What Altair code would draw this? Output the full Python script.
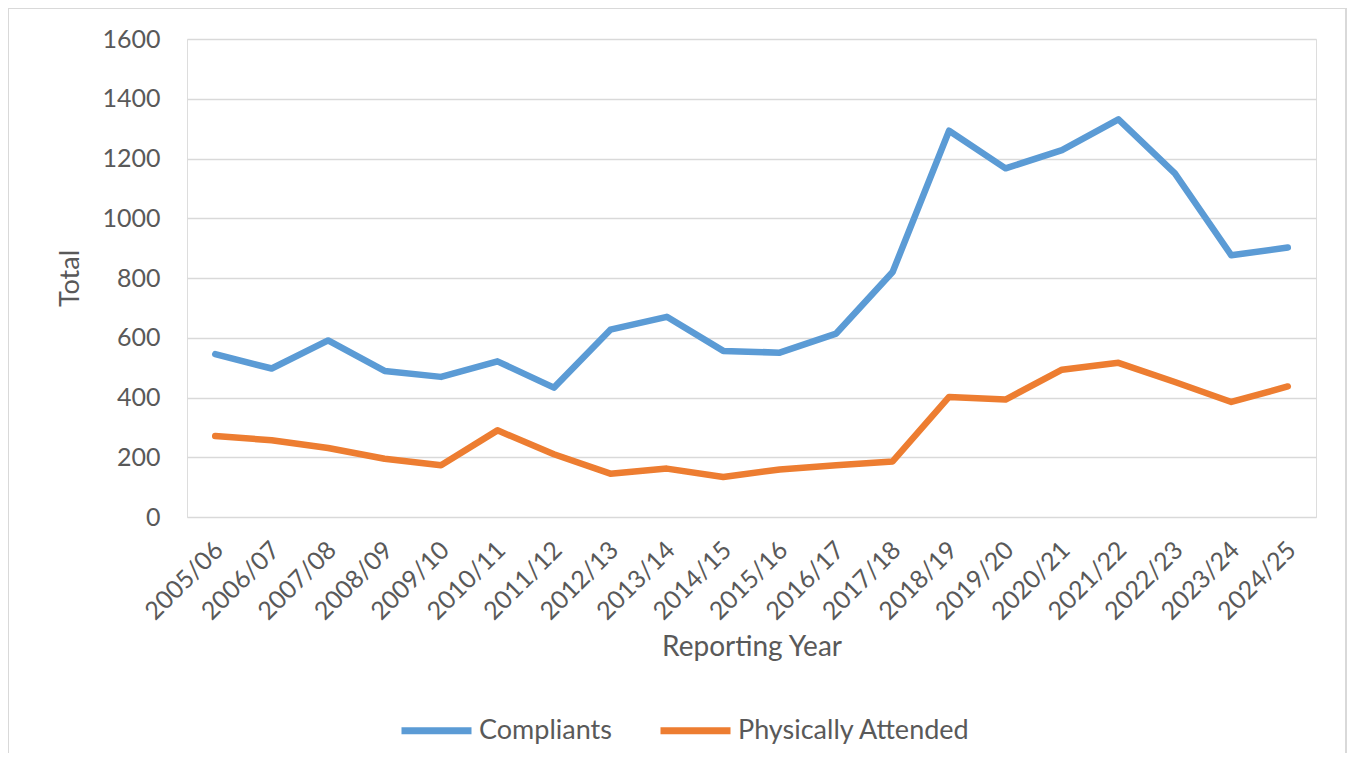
import altair as alt
import pandas as pd

years = ["2005/06", "2006/07", "2007/08", "2008/09", "2009/10", "2010/11", "2011/12",
         "2012/13", "2013/14", "2014/15", "2015/16", "2016/17", "2017/18", "2018/19",
         "2019/20", "2020/21", "2021/22", "2022/23", "2023/24", "2024/25"]
compliants = [545, 497, 591, 489, 469, 521, 433, 627, 670, 556, 550, 614, 820, 1293,
              1167, 1228, 1331, 1150, 876, 902]
attended = [271, 257, 231, 195, 173, 290, 210, 145, 162, 134, 159, 173, 186, 402,
            393, 493, 516, 452, 385, 437]
series_names = ["Compliants", "Physically Attended"]
series_colors = ["#5B9BD5", "#ED7D31"]
y_ticks = [0, 200, 400, 600, 800, 1000, 1200, 1400, 1600]

rows = []
for i, yr in enumerate(years):
    rows.append({"year": yr, "series": series_names[0], "value": compliants[i]})
    rows.append({"year": yr, "series": series_names[1], "value": attended[i]})
df = pd.DataFrame(rows)

FONT = "Lato"
GREY = "#595959"

lines = alt.Chart(df).mark_line(strokeWidth=6.5, strokeCap="round", strokeJoin="round").encode(
    x=alt.X("year:N", sort=years,
            scale=alt.Scale(type="point", padding=0.5),
            axis=alt.Axis(title="Reporting Year", labelAngle=-45, labelAlign="right",
                          labelBaseline="top", labelPadding=20, labelOffset=-5,
                          ticks=False, domain=False, grid=False,
                          labelFontSize=25, labelColor=GREY, labelFont=FONT,
                          titleFontSize=28, titleColor=GREY, titleFont=FONT,
                          titleFontWeight="normal", titlePadding=9)),
    y=alt.Y("value:Q",
            scale=alt.Scale(domain=[0, 1600], nice=False, zero=True),
            axis=alt.Axis(title="Total", values=y_ticks, format="d", ticks=False, domain=False,
                          grid=True, gridColor="#D9D9D9", gridWidth=1.5,
                          labelFontSize=25, labelColor=GREY, labelFont=FONT,
                          labelPadding=27,
                          titleFontSize=27, titleColor=GREY, titleFont=FONT,
                          titleFontWeight="normal", titlePadding=17)),
    color=alt.Color("series:N", sort=series_names,
                    scale=alt.Scale(domain=series_names, range=series_colors),
                    legend=alt.Legend(title=None, orient="none", legendX=211, legendY=653,
                                      direction="horizontal", symbolType="stroke",
                                      symbolSize=4900, symbolStrokeWidth=7,
                                      labelOffset=4, columnPadding=34, labelLimit=400,
                                      labelFontSize=27, labelColor=GREY, labelFont=FONT)),
)

border = alt.Chart(pd.DataFrame({"k": [0]})).mark_rect(
    fill=None, stroke="#D9D9D9", strokeWidth=2
).encode(
    x=alt.value(-179), x2=alt.value(1159), y=alt.value(-31), y2=alt.value(740)
)

chart = alt.layer(border, lines).properties(
    width=1129, height=478,
    padding={"left": 179, "top": 31, "right": 31, "bottom": 236},
    autosize=alt.AutoSizeParams(type="none"),
).configure_view(stroke=None).configure(font=FONT)

chart.save("out.html", embed_options={"renderer": "svg", "actions": False})
